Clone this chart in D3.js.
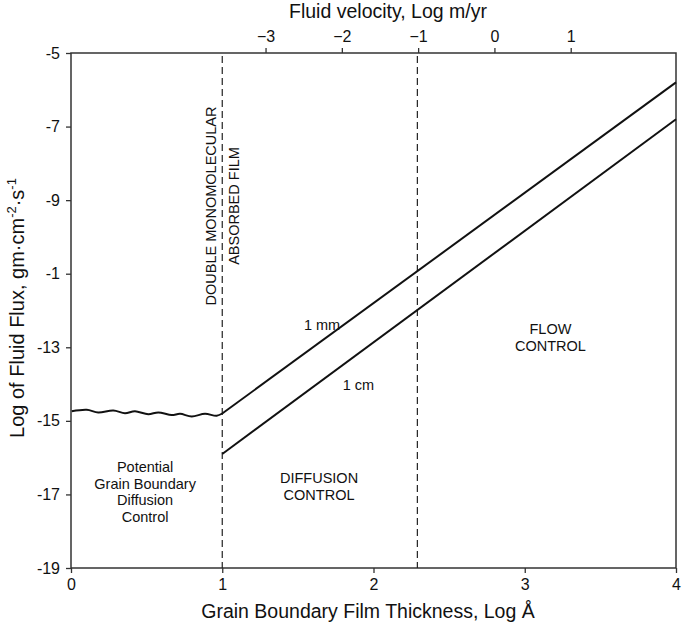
<!DOCTYPE html>
<html>
<head>
<meta charset="utf-8">
<script src="https://cdn.jsdelivr.net/npm/d3@7"></script>
<style>
  body { margin: 0; background: #fff; }
  text { font-family: "Liberation Sans", Arial, sans-serif; fill: #111; }
</style>
</head>
<body>
<div id="chart"></div>
<script>
// bottom axis: film thickness, log angstrom
var xTicks = [0, 1, 2, 3, 4];
// left axis: log flux (the "-1" label is as printed in the source figure)
var yTicks = [-5, -7, -9, -11, -13, -15, -17, -19];
var yTickLabels = ["-5", "-7", "-9", "-1", "-13", "-15", "-17", "-19"];
// top axis: fluid velocity, log m/yr
var topTicks = [-3, -2, -1, 0, 1];

// flux lines for two grain sizes
var line1mm = [[1, -14.8], [4, -5.8]];
var line1cm = [[1, -15.9], [4, -6.8]];

// hand drawn wavy segment (potential grain boundary diffusion)
var wavy = [
  [0.005, -14.74], [0.104, -14.70], [0.18, -14.77], [0.28, -14.72],
  [0.357, -14.79], [0.423, -14.74], [0.511, -14.82], [0.577, -14.77],
  [0.666, -14.84], [0.721, -14.81], [0.798, -14.88], [0.886, -14.81],
  [0.963, -14.86], [1.0, -14.8]
];

// vertical dashed boundaries
var dashedX = [1, 2.29];

// text labels in data coordinates
var notes = [
  { x: 1.66, y: -12.52, lines: ["1 mm"] },
  { x: 1.9, y: -14.15, lines: ["1 cm"] },
  { x: 3.17, y: -12.65, lines: ["FLOW", "CONTROL"] },
  { x: 1.64, y: -16.7, lines: ["DIFFUSION", "CONTROL"] },
  { x: 0.49, y: -16.4, lines: ["Potential", "Grain Boundary", "Diffusion", "Control"] }
];

var w = 685;
var h = 625;
var margin = { top: 53, right: 9, bottom: 57, left: 71 };

var svg = d3
  .select("#chart")
  .append("svg")
  .attr("width", w)
  .attr("height", h);

var x = d3.scaleLinear().domain([0, 4]).range([margin.left, w - margin.right]);
var y = d3.scaleLinear().domain([-19, -5]).range([h - margin.bottom, margin.top]);
// top axis shares the pixel range; -1 sits on the 2.29 dashed line
var xTop = d3.scaleLinear().domain([-5.55, 2.38]).range([margin.left, w - margin.right]);

// frame
svg
  .append("rect")
  .attr("x", margin.left)
  .attr("y", margin.top)
  .attr("width", w - margin.left - margin.right)
  .attr("height", h - margin.top - margin.bottom)
  .attr("fill", "none")
  .attr("stroke", "#333")
  .attr("stroke-width", 1.5);

// axes
var gx = svg
  .append("g")
  .attr("transform", "translate(0," + (h - margin.bottom) + ")")
  .call(d3.axisBottom(x).tickValues(xTicks).tickFormat(d3.format("d")).tickSizeOuter(0).tickSize(5).tickPadding(6));

var gy = svg
  .append("g")
  .attr("transform", "translate(" + margin.left + ",0)")
  .call(
    d3.axisLeft(y).tickValues(yTicks).tickSizeOuter(0).tickSize(5).tickPadding(6)
      .tickFormat((d, i) => yTickLabels[i])
  );

var gt = svg
  .append("g")
  .attr("transform", "translate(0," + margin.top + ")")
  .call(d3.axisTop(xTop).tickValues(topTicks).tickFormat(d3.format("d")).tickSizeOuter(0).tickSize(5).tickPadding(6));

[gx, gy, gt].forEach((g) => {
  g.select(".domain").remove();
  g.selectAll("line").attr("stroke", "#333").attr("stroke-width", 1.3);
  g.selectAll("text")
    .style("font-family", "'Liberation Sans', Arial, sans-serif")
    .style("font-size", "16px")
    .attr("fill", "#111");
});

// dashed lines
svg
  .append("g")
  .selectAll("line")
  .data(dashedX)
  .enter()
  .append("line")
  .attr("x1", (d) => x(d))
  .attr("x2", (d) => x(d))
  .attr("y1", margin.top + 3)
  .attr("y2", h - margin.bottom)
  .attr("stroke", "#222")
  .attr("stroke-width", 1.2)
  .attr("stroke-dasharray", "7,4");

var lineGen = d3.line().x((d) => x(d[0])).y((d) => y(d[1]));

svg
  .append("path")
  .datum(wavy)
  .attr("d", lineGen.curve(d3.curveCatmullRom))
  .attr("fill", "none")
  .attr("stroke", "#111")
  .attr("stroke-width", 2);

var straight = d3.line().x((d) => x(d[0])).y((d) => y(d[1]));
[line1mm, line1cm].forEach((pts) => {
  svg
    .append("path")
    .datum(pts)
    .attr("d", straight)
    .attr("fill", "none")
    .attr("stroke", "#111")
    .attr("stroke-width", 2);
});

// annotations
notes.forEach((n) => {
  var t = svg
    .append("text")
    .attr("x", x(n.x))
    .attr("y", y(n.y))
    .attr("text-anchor", "middle")
    .style("font-size", "14.5px");
  n.lines.forEach((s, i) => {
    t.append("tspan")
      .attr("x", x(n.x))
      .attr("dy", i === 0 ? 0 : 16.5)
      .text(s);
  });
});

// rotated film label beside the first dashed line
var filmY = 206;
svg
  .append("text")
  .attr("transform", "translate(" + (x(1) - 6) + "," + filmY + ") rotate(-90)")
  .attr("text-anchor", "middle")
  .style("font-size", "14.5px")
  .text("DOUBLE MONOMOLECULAR");
svg
  .append("text")
  .attr("transform", "translate(" + (x(1) + 17) + "," + filmY + ") rotate(-90)")
  .attr("text-anchor", "middle")
  .style("font-size", "14.5px")
  .text("ABSORBED FILM");

// axis titles
svg
  .append("text")
  .attr("x", 388)
  .attr("y", 18)
  .attr("text-anchor", "middle")
  .style("font-size", "19.5px")
  .text("Fluid velocity, Log m/yr");

svg
  .append("text")
  .attr("x", 368)
  .attr("y", 618)
  .attr("text-anchor", "middle")
  .style("font-size", "19.5px")
  .text("Grain Boundary Film Thickness, Log Å");

var yTitle = svg
  .append("text")
  .attr("transform", "translate(24," + 308 + ") rotate(-90)")
  .attr("text-anchor", "middle")
  .style("font-size", "20px");
yTitle.append("tspan").text("Log of Fluid Flux, gm·cm");
yTitle.append("tspan").attr("dy", -8).style("font-size", "13px").text("-2");
yTitle.append("tspan").attr("dy", 8).text("·s");
yTitle.append("tspan").attr("dy", -8).style("font-size", "13px").text("-1");
</script>
</body>
</html>
